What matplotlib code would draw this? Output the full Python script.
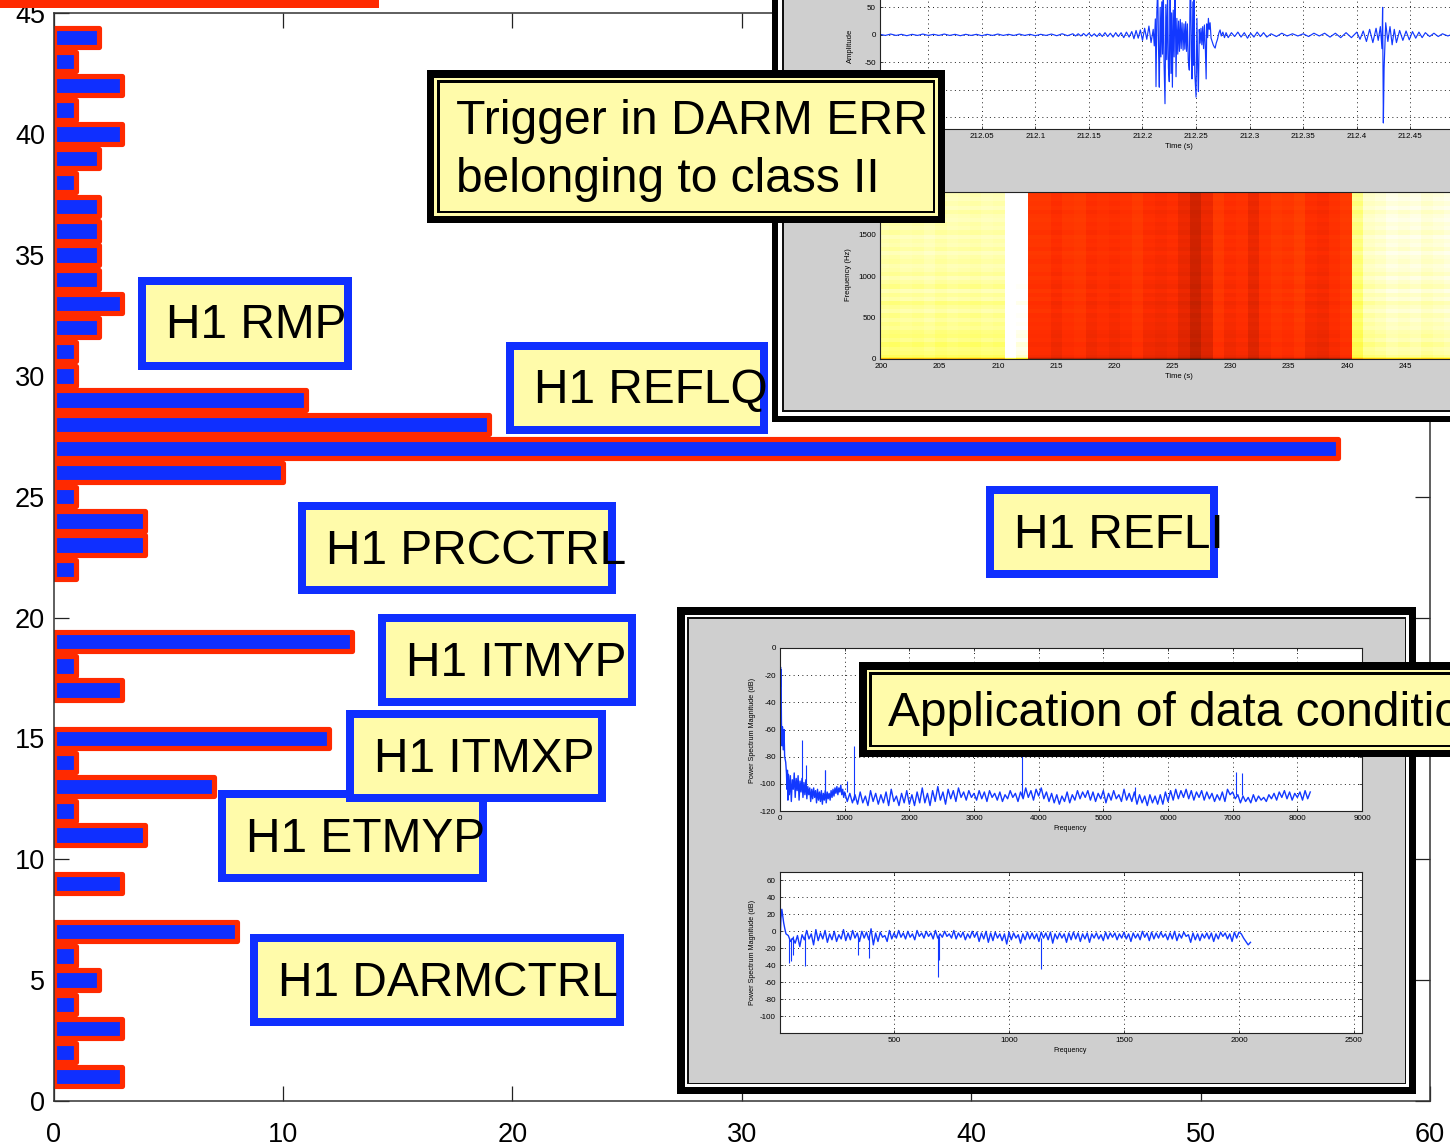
import numpy as np
import matplotlib
matplotlib.use("Agg")
import matplotlib.pyplot as plt
from matplotlib.colors import LinearSegmentedColormap
from matplotlib.patches import Rectangle

plt.rcParams['font.family'] = ['Liberation Sans', 'DejaVu Sans']
plt.rcParams['axes.unicode_minus'] = False

W, H = 1450, 1148

# histogram of triggers per channel (bin 1 to 44)
bins = list(range(1, 45))
counts = [3, 1, 3, 1, 2, 1, 8, 0, 3, 0, 4, 1, 7, 1, 12, 0, 3, 1, 13, 0, 0, 1,
          4, 4, 1, 10, 56, 19, 11, 1, 1, 2, 3, 2, 2, 2, 2, 1, 2, 3, 1, 3, 1, 2]
x_ticks = [0, 10, 20, 30, 40, 50, 60]
y_ticks = [0, 5, 10, 15, 20, 25, 30, 35, 40, 45]

channel_names = ["H1 RMP", "H1 REFLQ", "H1 PRCCTRL", "H1 REFLI", "H1 ETMYP",
                 "H1 ITMXP", "H1 ITMYP", "H1 DARMCTRL"]

# time series of the trigger
trace_t = [211.955, 211.96, 211.965, 211.97, 211.975, 211.98, 211.985, 211.99, 211.995, 212.0,
           212.005, 212.01, 212.015, 212.02, 212.025, 212.03, 212.035, 212.04, 212.045, 212.05,
           212.055, 212.06, 212.065, 212.07, 212.075, 212.08, 212.085, 212.09, 212.095, 212.1,
           212.105, 212.11, 212.115, 212.12, 212.125, 212.13, 212.135, 212.1375, 212.14, 212.1425,
           212.145, 212.1475, 212.15, 212.1525, 212.155, 212.1575, 212.16, 212.1625, 212.165, 212.1675,
           212.17, 212.1725, 212.175, 212.1775, 212.18, 212.1825, 212.185, 212.1875, 212.19, 212.192,
           212.194, 212.196, 212.198, 212.2, 212.202, 212.204, 212.206, 212.208, 212.21, 212.211,
           212.212, 212.2126, 212.2134, 212.2142, 212.215, 212.2157, 212.2165, 212.2172, 212.218, 212.2187,
           212.2194, 212.2201, 212.221, 212.2218, 212.2226, 212.2234, 212.2242, 212.225, 212.2258, 212.2266,
           212.2272, 212.2279, 212.2287, 212.2295, 212.2304, 212.2313, 212.2321, 212.2329, 212.2337, 212.2345,
           212.2353, 212.2361, 212.2369, 212.2379, 212.2387, 212.2395, 212.2403, 212.2411, 212.2419, 212.2427,
           212.2437, 212.2444, 212.245, 212.2456, 212.2462, 212.247, 212.2476, 212.2481, 212.2488, 212.25,
           212.2508, 212.2515, 212.2522, 212.253, 212.2538, 212.2546, 212.2554, 212.2562, 212.257, 212.2578,
           212.2586, 212.2594, 212.26, 212.2608, 212.2615, 212.2623, 212.2631, 212.264, 212.265, 212.266,
           212.267, 212.2678, 212.2688, 212.27, 212.2712, 212.2724, 212.2735, 212.275, 212.2765, 212.278,
           212.28, 212.283, 212.286, 212.289, 212.292, 212.295, 212.298, 212.301, 212.304, 212.307,
           212.31, 212.313, 212.316, 212.32, 212.325, 212.33, 212.335, 212.34, 212.345, 212.35,
           212.355, 212.36, 212.365, 212.37, 212.375, 212.38, 212.385, 212.39, 212.395, 212.4,
           212.403, 212.406, 212.409, 212.412, 212.415, 212.418, 212.42, 212.422, 212.4235, 212.4241,
           212.4248, 212.4255, 212.427, 212.429, 212.431, 212.433, 212.435, 212.437, 212.44, 212.443,
           212.446, 212.449, 212.452, 212.455, 212.458, 212.461, 212.464, 212.468, 212.472, 212.476,
           212.48, 212.485, 212.49, 212.495, 212.5, 212.505, 212.51, 212.515]
trace_amp = [1, -1, 1.5, -1, 1, -1.5, 1, -1, 1.5, -1,
             1, -1, 1.5, -1, 1, -1.5, 1, -1, 1, -1.5,
             1, -1, 1.5, -1, 1, -1, 1.5, -1, 1, -1.5,
             1, -1, 1.5, -1.5, 2, -1.5, 2, -2, 2, -2,
             2.5, -2, 3, -2.5, 2, -3, 3, -3, 4, -3,
             3, -4, 4, -3, 4, -5, 5, -4, 6, -7,
             8, -6, 9, -10, 12, -8, 16, -14, 10, -20,
             29, -94, 40, 90, -30, -95, 50, -40, 60, -35,
             90, -50, -125, 55, -45, 80, -60, -85, 90, -70,
             40, -95, 45, -40, 90, -76, 30, -35, 25, -30,
             28, -25, 22, -28, 20, -26, 24, -30, 20, -45,
             -64, 70, 90, -40, -80, 60, -55, 90, -70, -113,
             30, -60, -103, 10, -15, 12, -18, 15, -25, 18,
             -20, -80, 20, -5, 30, 10, 22, -6, -12, -18,
             -22, -24, -15, -8, 3, 9, -2, 5, -5, 4,
             -5, 4, -3, 5, -4, 4, -6, 3, -4, 5,
             -3, 4, -4, 2, -3, 3, -2, 2, -2, 2,
             -3, 3, -2, 3, -4, 3, -5, 4, -5, 5,
             -8, 7, -12, 10, -14, 12, -10, 15, -25, 50,
             -160, -60, 22, -12, 15, -18, 10, -14, 8, -10,
             7, -9, 6, -6, 5, -5, 4, -3, 3, -3,
             2, -2, 2, -2, 1.5, -1.5, 1, -1]

# spectrogram, one colour level per column and a gain per frequency row
spec_columns = [0.91, 0.905, 0.915, 0.91, 0.92, 0.905, 0.915, 0.91, 0.905, 0.915, 0.91,
                1.10, 1.02,
                0.43, 0.43, 0.41, 0.43, 0.44, 0.41, 0.42, 0.41, 0.42, 0.44, 0.41, 0.40, 0.41, 0.38,
                0.34, 0.38, 0.44, 0.41, 0.42, 0.38, 0.42, 0.44, 0.43, 0.45, 0.41, 0.40, 0.42, 0.44,
                0.87, 0.93, 0.94, 0.96, 0.95, 0.96, 0.94, 0.95, 0.96, 0.95, 0.94]
spec_row_edges = [0, 10, 25, 50, 100, 150, 200, 250, 300, 350, 400, 450, 500, 550, 600, 650, 700,
                  750, 800, 850, 900, 950, 1000, 1050, 1100, 1150, 1200, 1250, 1300, 1350, 1400,
                  1450, 1500, 1550, 1600, 1650, 1700, 1750, 1800, 1850, 1900, 1950, 2000, 2050]
spec_row_gain = [0.72, 0.88, 0.93, 0.95, 0.96, 0.94, 0.97, 0.95, 0.96, 0.98, 0.97, 0.99, 0.97, 1.0, 0.98,
                 0.96, 1.0, 0.98, 1.01, 0.97, 0.99, 1.01, 0.98, 1.0, 1.01, 0.99, 1.0, 1.02, 0.99, 1.01,
                 1.0, 1.02, 0.99, 1.01, 1.0, 1.02, 1.01, 0.99, 1.02, 1.0, 1.02, 1.01, 1.0]
spec_color_levels = [0, 0.2, 0.3, 0.36, 0.41, 0.5, 0.72, 0.85, 0.91, 1]
spec_colors = ["#000000", "#5a1000", "#b01e00", "#dd2400", "#ff2c00", "#ff5000",
               "#ffe800", "#ffff60", "#ffffaa", "#ffffff"]

# raw spectrum (upper panel of the data conditioning figure)
raw_low_f = [5, 8, 12, 16, 22, 30, 38, 50, 62, 72, 88, 100, 108, 115, 122,
             130, 145, 160, 175, 190, 205, 220, 235, 250, 265, 280, 295, 310, 325, 340,
             355, 370, 385, 400, 415, 430, 445, 460, 475, 490, 505, 520, 535, 550, 565,
             580, 595, 610, 625, 640, 655, 670, 685, 700, 715, 730, 745, 760, 775, 790,
             805, 820, 835, 850, 865, 880, 895, 910, 925, 940, 955, 970, 985]
raw_low_db = [-40, -14, -28, -16, -54, -72, -58, -75, -60, -80, -84, -92, -104, -90, -112,
              -93, -108, -94, -113, -97, -104, -92, -110, -96, -105, -94, -112, -98, -106, -96,
              -110, -99, -108, -97, -111, -102, -108, -103, -113, -104, -111, -103, -110, -105, -114,
              -104, -112, -106, -113, -105, -115, -107, -112, -105, -114, -106, -111, -107, -112, -105,
              -110, -104, -109, -103, -107, -102, -108, -103, -106, -101, -108, -104, -110]
raw_tail_f = list(range(1000, 8201, 40))
raw_tail_db = [-106, -113, -107, -114, -108, -115, -106, -114, -109, -116,
               -105, -113, -107, -115, -108, -114, -106, -116, -104, -113,
               -109, -116, -107, -114, -105, -115, -108, -116, -106, -114,
               -103, -114, -107, -116, -105, -113, -102, -112, -106, -115,
               -104, -111, -105, -113, -103, -110, -106, -112, -105, -110,
               -107, -112, -105, -111, -106, -113, -105, -110, -107, -112,
               -106, -113, -108, -111, -105, -110, -107, -113, -106, -111,
               -103, -110, -105, -112, -104, -109, -103, -111, -106, -113,
               -107, -114, -108, -115, -109, -113, -106, -114, -108, -112,
               -105, -111, -106, -110, -105, -112, -106, -113, -107, -111,
               -105, -114, -107, -112, -105, -111, -108, -113, -104, -112,
               -107, -113, -106, -115, -108, -114, -109, -116, -108, -114,
               -109, -115, -108, -115, -106, -113, -105, -112, -104, -111,
               -105, -110, -104, -111, -105, -112, -106, -110, -105, -112,
               -106, -111, -107, -113, -108, -112, -106, -113, -104, -108,
               -106, -111, -108, -114, -109, -113, -110, -114, -108, -113,
               -109, -112, -110, -113, -108, -111, -107, -112, -106, -110,
               -105, -111, -106, -112, -107, -110, -106, -112, -105, -111, -106]
raw_spike_f = [340, 400, 690, 700, 1030, 1140, 3740, 5490, 7050, 7150]
raw_spike_top = [-68, -86, -90, -90, -98, -72, -72, -102, -91, -92]
raw_spike_base = [-104, -104, -108, -108, -106, -112, -110, -110, -108, -108]

# whitened spectrum (lower panel)
white_low_f = [5, 8, 12, 16, 20, 25, 30]
white_low_db = [-8, 15, 26, 18, 10, 3, -3]
white_f = list(range(40, 2051, 10))
white_db = [-5, -12, -8, -14, -5, -18, -4, -10, 1, -9,
            -3, -16, 2, -11, -2, -9, 1, -13, -3, -10,
            0, -12, -4, -9, 2, -11, -2, -10, 1, -8,
            -2, -12, 0, -8, -1, -10, 3, -16, -2, -12,
            -1, -7, -5, -12, 1, -9, -2, -8, 1, -7,
            -2, -9, 0, -7, -3, -10, 1, -6, -2, -8,
            0, -6, -2, -9, 1, -8, -3, -7, 0, -6,
            -3, -8, 1, -9, -2, -7, -1, -10, -3, -8,
            0, -7, -1, -12, -2, -9, 0, -13, -2, -11,
            -1, -8, -3, -11, -3, -15, -1, -10, -2, -8,
            -4, -14, -3, -10, -1, -9, -2, -9, -3, -12,
            -1, -8, -2, -10, -1, -14, -3, -9, -2, -8,
            -3, -13, -2, -10, -1, -9, -2, -12, -3, -9,
            -2, -13, -3, -8, -2, -9, -4, -11, -1, -9,
            -2, -7, -2, -10, -3, -8, -1, -9, -3, -12,
            -2, -8, -3, -10, 0, -7, -2, -11, -1, -9,
            -2, -8, -1, -7, -3, -10, -2, -9, 0, -11,
            -3, -8, -1, -6, -4, -13, -2, -10, -3, -11,
            -3, -8, -2, -9, -2, -12, -3, -9, -1, -6,
            -2, -9, -3, -12, -1, -8, -1, -3, -8, -12,
            -16, -13]
white_dip_f = [43, 52, 62, 112, 345, 392, 690, 695, 1140]
white_dip_bottom = [-37, -35, -28, -41, -28, -32, -54, -34, -45]
white_dip_top = [-8, -8, -6, -6, -6, -6, -6, -6, -8]

BLUE = "#0f2fff"
RED = "#ff2a00"
YELLOW = "#fffbaa"
GRAY = "#cfcfcf"
TRACE = "#1238ff"


def px_rect(x0, y0, x1, y1):
    return [x0 / W, 1 - y1 / H, (x1 - x0) / W, (y1 - y0) / H]


def box(fig, x0, y0, x1, y1, color, zorder):
    l, b, w, h = px_rect(x0, y0, x1, y1)
    fig.add_artist(Rectangle((l, b), w, h, transform=fig.transFigure,
                             facecolor=color, edgecolor="none", zorder=zorder))


def label(fig, x, y, s, size, zorder=4, **kw):
    fig.text(x / W, 1 - y / H, s, fontsize=size, zorder=zorder, **kw)


def small_axes(fig, rect):
    ax = fig.add_axes(px_rect(*rect), zorder=3)
    ax.tick_params(direction="in", length=2.2, width=0.5, top=True, right=True,
                   labelsize=5.8, pad=3)
    ax.grid(True, linestyle=(0, (1, 3.5)), color="#222222", linewidth=0.7)
    ax.set_axisbelow(True)
    for s in ax.spines.values():
        s.set_linewidth(0.8)
        s.set_color("#222222")
    return ax


fig = plt.figure(figsize=(W / 100, H / 100), dpi=100, facecolor="white")

# main histogram
ax = fig.add_axes(px_rect(53.5, 13.3, 1430, 1101), zorder=1)
shown = [i for i, c in enumerate(counts) if c > 0]
ax.barh([bins[i] for i in shown], [counts[i] for i in shown], height=0.8, color=BLUE,
        edgecolor=RED, linewidth=3.7, joinstyle="round")
ax.set_axisbelow(True)
ax.set_xlim(0, 60)
ax.set_ylim(0, 45)
ax.set_xticks(x_ticks)
ax.set_yticks(y_ticks)
ax.tick_params(axis="both", direction="in", length=11, width=0.9, color="#222222",
               top=True, right=True, labelsize=19.5)
ax.tick_params(axis="x", pad=15)
ax.tick_params(axis="y", pad=6)
for s in ax.spines.values():
    s.set_linewidth(1.1)
    s.set_color("#333333")

# red rule along the top edge
box(fig, 0, -5, 379, 8, RED, 7)

# upper right figure
for inset, color in [(0, "black"), (6, "white"), (10, "#111111"), (12, GRAY)]:
    box(fig, 772 + inset, -40, 1500, 422 - inset, color, 2)

ax_t = small_axes(fig, (880, -40, 1480, 129.3))
ax_t.plot(trace_t, trace_amp, color=TRACE, linewidth=0.85)
ax_t.set_xlim(211.955, 212.515)
ax_t.set_ylim(-171.5, 136)
ax_t.set_xticks([212, 212.05, 212.1, 212.15, 212.2, 212.25, 212.3, 212.35, 212.4, 212.45, 212.5])
ax_t.set_xticklabels(["212", "212.05", "212.1", "212.15", "212.2", "212.25", "212.3", "212.35",
                      "212.4", "212.45", "212.5"])
ax_t.set_yticks([50, 0, -50, -100, -150])
label(fig, 1179, 147, "Time (s)", 5.5, ha="center", va="center")
label(fig, 850, 46, "Amplitude", 5.5, ha="center", va="center", rotation=90)

ax_s = small_axes(fig, (880, 192, 1475, 359))
ax_s.grid(False)
spec_cells = np.outer(spec_row_gain, spec_columns)
spec_edges = np.linspace(199.65, 251.34, len(spec_columns) + 1)
spec_cmap = LinearSegmentedColormap.from_list("spec", list(zip(spec_color_levels, spec_colors)))
ax_s.pcolormesh(spec_edges, spec_row_edges, spec_cells, cmap=spec_cmap, vmin=0, vmax=1)
ax_s.set_xlim(199.88, 251)
ax_s.set_ylim(0, 2014)
ax_s.set_xticks(list(range(200, 251, 5)))
ax_s.set_yticks([0, 500, 1000, 1500, 2000])
ax_s.tick_params(length=2.6, color="#111111")
label(fig, 1179, 377, "Time (s)", 5.5, ha="center", va="center")
label(fig, 848, 275, "Frequency (Hz)", 5.5, ha="center", va="center", rotation=90)

# lower right figure
for inset, color in [(0, "black"), (7.5, "white"), (10, "#111111"), (11.5, GRAY)]:
    box(fig, 677 + inset, 607 + inset, 1416 - inset, 1094 - inset, color, 2)

ax_a = small_axes(fig, (780, 648, 1362, 811))
ax_a.plot(raw_low_f + raw_tail_f, raw_low_db + raw_tail_db, color=TRACE, linewidth=1.0)
ax_a.vlines(raw_spike_f, raw_spike_base, raw_spike_top, color=TRACE, linewidth=0.8)
ax_a.set_xlim(0, 9000)
ax_a.set_ylim(-120, 0)
ax_a.set_xticks(list(range(0, 9001, 1000)))
ax_a.set_yticks(list(range(-120, 1, 20)))
label(fig, 1070, 829, "Frequency", 5, ha="center", va="center")
label(fig, 752, 730, "Power Spectrum Magnitude (dB)", 5.2, ha="center", va="center", rotation=90)

ax_b = small_axes(fig, (780, 872, 1362, 1033))
ax_b.plot(white_low_f + white_f, white_low_db + white_db, color=TRACE, linewidth=1.0)
ax_b.vlines(white_dip_f, white_dip_bottom, white_dip_top, color=TRACE, linewidth=0.8)
ax_b.set_xlim(4, 2535)
ax_b.set_ylim(-120, 70)
ax_b.set_xticks([500, 1000, 1500, 2000, 2500])
ax_b.set_yticks(list(range(-100, 61, 20)))
label(fig, 1070, 1051, "Frequency", 5, ha="center", va="center")
label(fig, 752, 952, "Power Spectrum Magnitude (dB)", 5.2, ha="center", va="center", rotation=90)

# double framed captions
for x0, y0, x1, y1 in [(427, 70, 945, 223), (859, 662, 1500, 757)]:
    for inset, color in [(0, "black"), (7.5, YELLOW), (10, "black"), (12.5, YELLOW)]:
        box(fig, x0 + inset, y0 + inset, x1 - inset, y1 - inset, color, 5)
label(fig, 456, 134, "Trigger in DARM ERR", 34.65, zorder=9, va="baseline")
label(fig, 456, 191.5, "belonging to class II", 34.5, zorder=9, va="baseline")
label(fig, 888, 726, "Application of data conditioning", 34.5, zorder=9, va="baseline")

# channel labels, (left, top, right, bottom) of the blue frame and text start
channel_boxes = [(138, 277, 352, 370), (506, 342, 768, 434), (298, 502, 616, 594), (986, 486, 1218, 578),
                 (218, 790, 487, 882), (346, 710, 606, 802), (378, 614, 636, 706), (250, 934, 624, 1026)]
for name, (x0, y0, x1, y1) in zip(channel_names, channel_boxes):
    box(fig, x0, y0, x1, y1, BLUE, 6)
    box(fig, x0 + 8, y0 + 8, x1 - 8, y1 - 8, YELLOW, 6)
    label(fig, x0 + 28, y0 + 61.5, name, 34.5, zorder=9, va="baseline")

fig.savefig("out.png", dpi=100)
